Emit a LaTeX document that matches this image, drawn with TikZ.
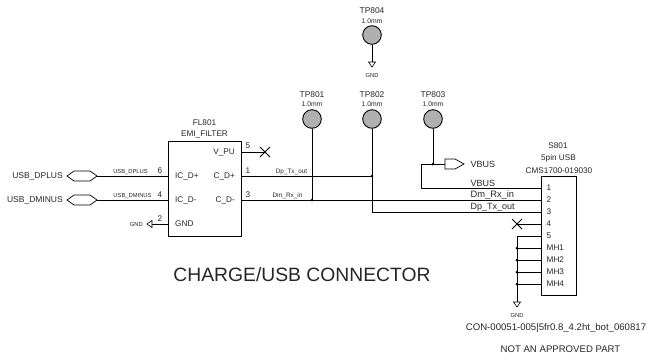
\documentclass[tikz,border=0pt]{standalone}
\usepackage{fontspec}
\usetikzlibrary{calc}
\setmainfont{Liberation Sans}
\tikzset{
  px/.style={x=1pt,y=-1pt},
  wire/.style={draw=black,line width=0.9pt},
  box/.style={draw=black,line width=1pt,fill=white,minimum width=0pt,inner sep=0pt},
  tpcirc/.style={circle,draw=black,line width=0.9pt,fill=black!31,minimum size=18.6pt,inner sep=0pt},
  dotj/.style={circle,fill=black,minimum size=3pt,inner sep=0pt},
  lab/.style={inner sep=0pt,text=black!85},
  tinylab/.style={lab,font=\fontsize{5.8}{7}\selectfont},
  gndlab/.style={lab,font=\fontsize{5.8}{7}\selectfont},
  mmlab/.style={lab,font=\fontsize{6.8}{8}\selectfont},
  smalllab/.style={lab,font=\fontsize{8.4}{10}\selectfont},
  midlab/.style={lab,font=\fontsize{8.2}{10}\selectfont},
  biglab/.style={lab,font=\fontsize{8.5}{10}\selectfont},
  gndtri/.style={draw=black,line width=0.6pt,fill=white},
  shape1/.style={draw=black,line width=0.7pt,fill=white}
}
\begin{document}
\begin{tikzpicture}[px]
\useasboundingbox (0,0) rectangle (648,357);
% coordinates
\coordinate (h1) at (97,176);
\coordinate (h2) at (97,200);
\coordinate (fl6) at (168,176);
\coordinate (fl4) at (168,200);
\coordinate (fl2) at (168,224);
\coordinate (fl5) at (241,152);
\coordinate (fl1) at (241,176);
\coordinate (fl3) at (241,200);
\coordinate (x5) at (265,152);
\coordinate (g2) at (152,224);
\coordinate (jA) at (312,200);
\coordinate (jB) at (372,176);
\coordinate (cB) at (372,212);
\coordinate (jV) at (433,164);
\coordinate (vL) at (421,164);
\coordinate (vD) at (421,188);
\coordinate (p1) at (541,188);
\coordinate (p2) at (541,200);
\coordinate (p3) at (541,212);
\coordinate (p4) at (541,224);
\coordinate (p5) at (541,236);
\coordinate (m1) at (541,248);
\coordinate (m2) at (541,260);
\coordinate (m3) at (541,272);
\coordinate (m4) at (541,284);
\coordinate (x4) at (517,224);
\coordinate (b5) at (517,236);
\coordinate (j1) at (517,248);
\coordinate (j2) at (517,260);
\coordinate (j3) at (517,272);
\coordinate (j4) at (517,284);
\coordinate (bg) at (517,301.5);
\coordinate (vp) at (445,164);
\coordinate (g804) at (372,61.5);
% test points
\node[tpcirc] (tp4) at (372,35) {};
\node[tpcirc] (tp1) at (312,119) {};
\node[tpcirc] (tp2) at (372,119) {};
\node[tpcirc] (tp3) at (433,119) {};
% wires
\draw[wire] (tp4) -- (g804);
\draw[wire] (tp1) -- (jA);
\draw[wire] (tp2) -- (cB) -- (p3);
\draw[wire] (tp3) -- (jV);
\draw[wire] (h1) -- (fl6);
\draw[wire] (h2) -- (fl4);
\draw[wire] (g2) -- (fl2);
\draw[wire] (fl5) -- (x5);
\draw[wire] (fl1) -- (jB);
\draw[wire] (fl3) -- (p2);
\draw[wire] (vp) -- (vL) -- (vD) -- (p1);
\draw[wire] (x4) -- (p4);
\draw[wire] (p5) -- (b5) -- (bg);
\draw[wire] (m1) -- (j1);
\draw[wire] (m2) -- (j2);
\draw[wire] (m3) -- (j3);
\draw[wire] (m4) -- (j4);
% X marks
\draw[wire] ($(x5)+(-5,-5)$) -- ($(x5)+(5,5)$) ($(x5)+(-5,5)$) -- ($(x5)+(5,-5)$);
\draw[wire] ($(x4)+(-5,-5)$) -- ($(x4)+(5,5)$) ($(x4)+(-5,5)$) -- ($(x4)+(5,-5)$);
% junctions
\foreach \c/\n in {jA/ja,jB/jb,jV/jv,j1/ja1,j2/ja2,j3/ja3,j4/ja4} \node[dotj] (\n) at (\c) {};
% boxes
\node[box,anchor=north west,minimum width=72.5pt,minimum height=95.5pt] (fl) at (168,140.5) {};
\node[box,anchor=north west,minimum width=35pt,minimum height=119pt] (s) at (541,176) {};
% gnd triangles
\draw[gndtri] (152,220.5) -- (147,224) -- (152,227.5) -- cycle;
\draw[gndtri] (368.5,62) -- (372,67) -- (375.5,62) -- cycle;
\draw[gndtri] (513.5,302) -- (517,307) -- (520.5,302) -- cycle;
% off-page connectors
\draw[shape1] (67,176) -- (74,171) -- (90,171) -- (97,176) -- (90,181) -- (74,181) -- cycle;
\draw[shape1] (67,200) -- (74,195) -- (90,195) -- (97,200) -- (90,205) -- (74,205) -- cycle;
\draw[shape1] (445,159) -- (455,159) -- (464,164) -- (455,169) -- (445,169) -- cycle;
% left labels
\node[biglab,anchor=east] (tdp) at (63,176) {USB\_DPLUS};
\node[biglab,anchor=east] (tdm) at (63,200) {USB\_DMINUS};
\node[tinylab,anchor=south] (n1) at (130.5,175) {USB\_DPLUS};
\node[tinylab,anchor=south] (n2) at (132.5,199) {USB\_DMINUS};
\node[gndlab,anchor=east] (g1) at (143,224) {GND};
\node[midlab] (num6) at (160,171) {6};
\node[midlab] (num4) at (160,195) {4};
\node[midlab] (num2) at (160,219) {2};
\node[midlab] (num5) at (248,146) {5};
\node[midlab] (num1) at (248,171) {1};
\node[midlab] (num3) at (248,194.5) {3};
% FL801
\node[midlab] (f1) at (204.5,123) {FL801};
\node[midlab] (f2) at (204.5,134) {EMI\_FILTER};
\node[midlab,anchor=west] (i1) at (175,176) {IC\_D+};
\node[midlab,anchor=west] (i2) at (175,200) {IC\_D-};
\node[midlab,anchor=west] (i3) at (175,224) {GND};
\node[midlab,anchor=east] (o1) at (235,152) {V\_PU};
\node[midlab,anchor=east] (o2) at (235,176) {C\_D+};
\node[midlab,anchor=east] (o3) at (235,200) {C\_D-};
\node[tinylab,anchor=south,font=\fontsize{6.4}{8}\selectfont] (dp) at (291.5,175) {Dp\_Tx\_out};
\node[tinylab,anchor=south,font=\fontsize{6.4}{8}\selectfont] (dm) at (287.5,199) {Dm\_Rx\_in};
% TP labels
\node[smalllab] (a4) at (372,11) {TP804};
\node[mmlab] (b4) at (372,21) {1.0mm};
\node[gndlab] (g4) at (372,75) {GND};
\node[smalllab] (a1) at (312,95) {TP801};
\node[mmlab] (b1) at (312,104) {1.0mm};
\node[smalllab] (a2) at (372,95) {TP802};
\node[mmlab] (b2) at (372,104) {1.0mm};
\node[smalllab] (a3) at (433,95) {TP803};
\node[mmlab] (b3) at (433,104) {1.0mm};
% VBUS etc
\node[midlab,anchor=west,font=\fontsize{9}{10}\selectfont] (vb) at (470.5,164) {VBUS};
\node[midlab,anchor=west,font=\fontsize{9}{10}\selectfont] (v2) at (470.5,183.5) {VBUS};
\node[midlab,anchor=west,font=\fontsize{9.3}{10}\selectfont] (d2) at (470.5,195.5) {Dm\_Rx\_in};
\node[midlab,anchor=west,font=\fontsize{9}{10}\selectfont] (d3) at (470.5,207.5) {Dp\_Tx\_out};
% S801
\node[midlab] (s1) at (558,146) {S801};
\node[midlab] (s2) at (558.5,158) {5pin USB};
\node[midlab] (s3) at (559,171) {CMS1700-019030};
\foreach \yy/\tt in {188/1,200/2,212/3,224/4,236/5,248/MH1,260/MH2,272/MH3,284/MH4}
  \node[midlab,anchor=west] at (546.5,\yy) {\tt};
\node[gndlab] (g5) at (517,315) {GND};
\node[lab,font=\fontsize{9.6}{11}\selectfont] (c1) at (556,328.5) {CON-00051-005|5fr0.8\_4.2ht\_bot\_060817};
\node[lab,font=\fontsize{9.6}{11}\selectfont] (c2) at (560.5,349) {NOT AN APPROVED PART};
\node[lab,font=\fontsize{19.3}{22}\selectfont] (title) at (302,275) {CHARGE/USB CONNECTOR};
\end{tikzpicture}
\end{document}
